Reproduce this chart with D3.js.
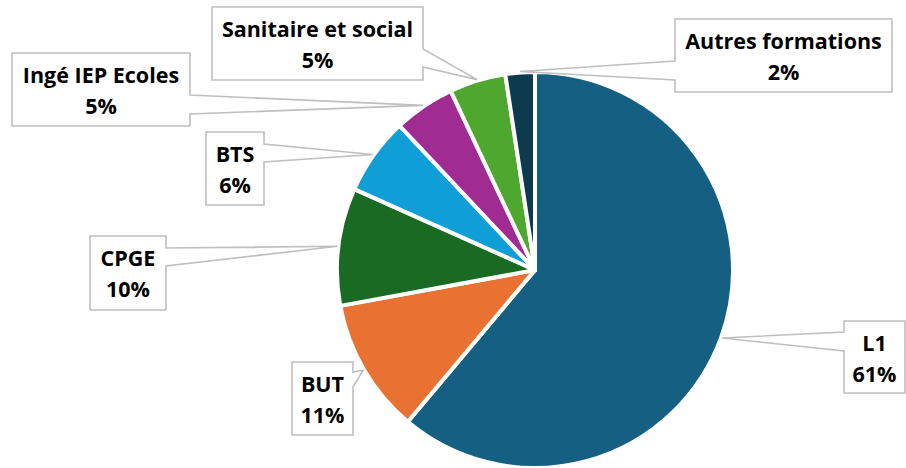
<!DOCTYPE html>
<html>
<head>
<meta charset="utf-8">
<script src="https://cdn.jsdelivr.net/npm/d3@7"></script>
<style>
  body { margin: 0; background: #fff; }
  svg { display: block; }
  .lbl { font-family: "Open Sans", Lato, sans-serif; font-weight: bold; fill: #000; }
</style>
</head>
<body>
<script>
// chart size
var width = 906;
var height = 468;

// data (share in %)
var categories = ["L1", "BUT", "CPGE", "BTS", "Ingé IEP Ecoles", "Sanitaire et social", "Autres formations"];
var values = [61.1, 11.0, 9.6, 6.3, 5.0, 4.6, 2.4];
var colors = ["#156082", "#E97132", "#196B24", "#0F9ED5", "#A02B93", "#4EA72E", "#0D3A4E"];

// callout boxes: position of box, side of pointer, pointer base (relative to box top)
var boxes = [
  { x: 844, y: 321, w: 61,  h: 72, side: "left",  b1: 11, b2: 30 },
  { x: 292, y: 362, w: 61,  h: 73, side: "right", b1: 10, b2: 25 },
  { x: 90,  y: 236, w: 76,  h: 74, side: "right", b1: 12, b2: 30 },
  { x: 206, y: 132, w: 58,  h: 73, side: "right", b1: 12, b2: 30 },
  { x: 12,  y: 53,  w: 178, h: 73, side: "right", b1: 42, b2: 61 },
  { x: 212, y: 7,   w: 211, h: 73, side: "right", b1: 42, b2: 60 },
  { x: 675, y: 19,  w: 217, h: 73, side: "left",  b1: 42, b2: 61 }
];

var cx = 535, cy = 270, radius = 198;

var svg = d3.select("body").append("svg")
    .attr("width", width)
    .attr("height", height);

var pie = d3.pie().sort(null).value(function(d) { return d; });
var arcs = pie(values);

var arc = d3.arc().innerRadius(0).outerRadius(radius);
// point on the rim at the middle of each slice, where the callout points to
var rim = d3.arc().innerRadius(radius + 1).outerRadius(radius + 1);

var g = svg.append("g").attr("transform", "translate(" + cx + "," + cy + ")");

g.selectAll("path.slice")
  .data(arcs)
  .enter()
  .append("path")
  .attr("class", "slice")
  .attr("d", arc)
  .style("fill", function(d, i) { return colors[i]; })
  .style("stroke", "#fff")
  .style("stroke-width", 4)
  .style("stroke-linejoin", "round");

// callouts
var callouts = svg.selectAll("g.callout")
  .data(arcs)
  .enter()
  .append("g")
  .attr("class", "callout");

callouts.append("path")
  .attr("d", function(d, i) {
    var b = boxes[i];
    var c = rim.centroid(d);
    var tx = cx + c[0], ty = cy + c[1];
    var x0 = b.x, y0 = b.y, x1 = b.x + b.w, y1 = b.y + b.h;
    var p;
    if (b.side == "right") {
      p = [[x0, y0], [x1, y0], [x1, y0 + b.b1], [tx, ty], [x1, y0 + b.b2], [x1, y1], [x0, y1]];
    } else {
      p = [[x0, y0], [x1, y0], [x1, y1], [x0, y1], [x0, y0 + b.b2], [tx, ty], [x0, y0 + b.b1]];
    }
    return "M" + p.join("L") + "Z";
  })
  .style("fill", "#fff")
  .style("stroke", "#bfbfbf")
  .style("stroke-width", 1.6)
  .style("stroke-linejoin", "miter");

var txt = callouts.append("text")
  .attr("class", "lbl")
  .attr("text-anchor", "middle")
  .style("font-size", "21.5px");

txt.append("tspan")
  .attr("x", function(d, i) { return boxes[i].x + boxes[i].w / 2; })
  .attr("y", function(d, i) { return boxes[i].y + 30; })
  .text(function(d, i) { return categories[i]; });

txt.append("tspan")
  .attr("x", function(d, i) { return boxes[i].x + boxes[i].w / 2; })
  .attr("y", function(d, i) { return boxes[i].y + 61; })
  .text(function(d, i) { return Math.round(values[i]) + "%"; });
</script>
</body>
</html>
